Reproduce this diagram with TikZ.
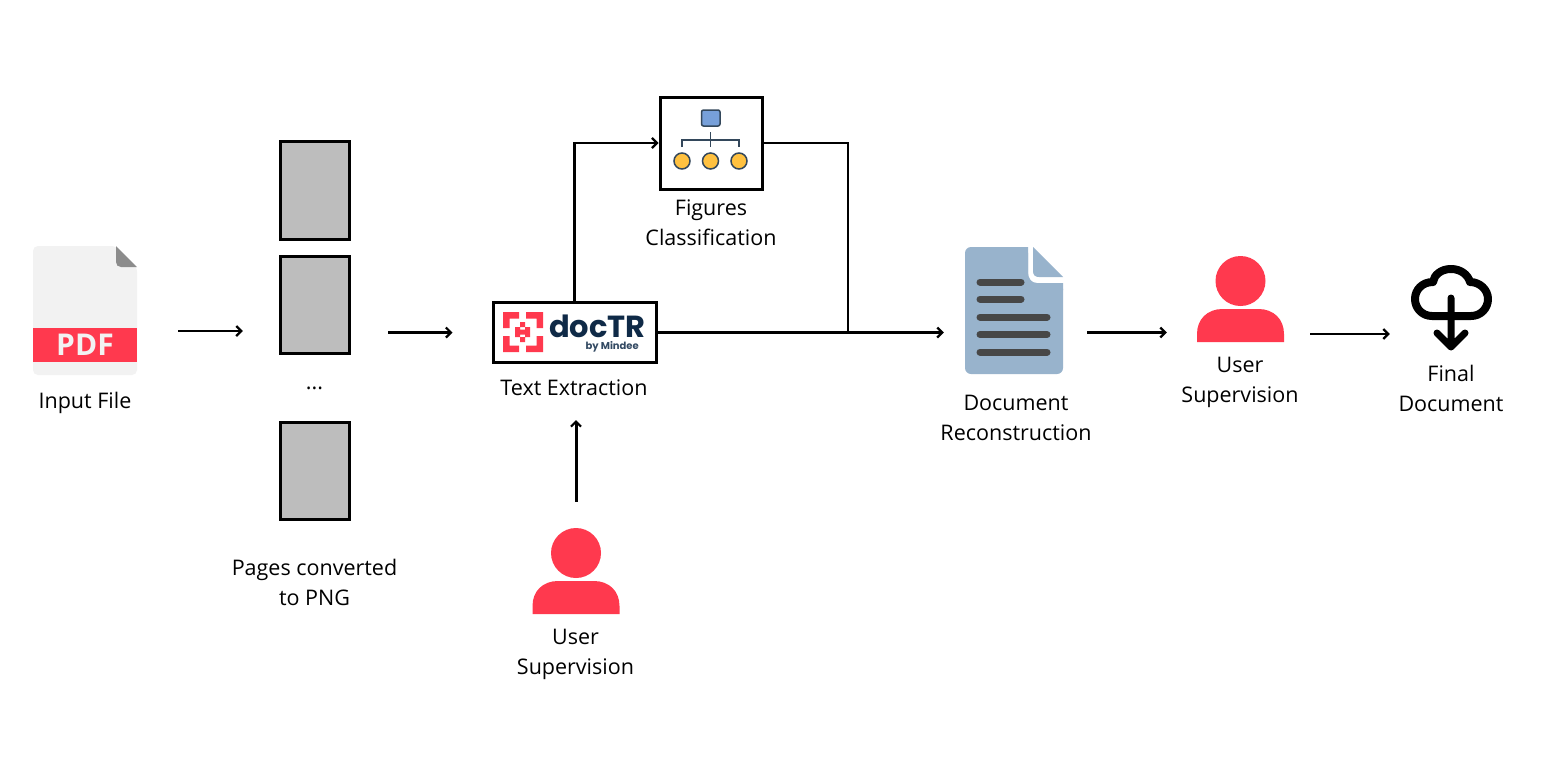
\documentclass[tikz,border=0pt]{standalone}
\usepackage{fontspec}
\setmainfont{Open Sans}
\newfontfamily\logofont{Poppins}
\usetikzlibrary{arrows.meta,calc}
\definecolor{ured}{HTML}{FF394E}
\definecolor{docblue}{HTML}{98B3CC}
\definecolor{navy}{HTML}{0F2A47}
\definecolor{iconline}{HTML}{33475B}
\tikzset{
  x=1pt,y=-1pt,
  lbl/.style={font=\fontsize{21.5}{30}\selectfont,align=center,inner sep=0pt,text=black},
  slot/.style={rectangle,inner sep=0pt,minimum width=#1},
  arr/.style={draw=black,line width=2.5pt,-{Straight Barb[length=5pt,width=10pt,line width=2.2pt]}},
  wire/.style={draw=black,line width=2.5pt},
  boxed/.style={draw=black,line width=3pt,fill=white,inner sep=0pt},
  pagebox/.style={draw=black,line width=3pt,fill=black!26,inner sep=0pt,minimum width=69pt},
  docline/.style={draw=black!72,line width=7pt,line cap=round},
  person/.pic={
    \fill[ured] (0,-18) circle[radius=25];
    \fill[ured] (-43.5,43) -- (-43.5,35) .. controls (-43.5,20) and (-33,10) .. (-18,10)
      -- (18,10) .. controls (33,10) and (43.5,20) .. (43.5,35) -- (43.5,43) -- cycle;
  }
}
\begin{document}
\begin{tikzpicture}
\useasboundingbox (0,0) rectangle (1543,766);
\fill[white] (0,0) rectangle (1543,766);

% PDF icon
\node[slot=104pt,minimum height=129pt] (pdf) at (85,310.5) {};
\fill[black!5,rounded corners=5pt] (33,246) -- (116,246) -- (137,267) -- (137,375) -- (33,375) -- cycle;
\fill[black!45] (116,246) -- (137,267) -- (121,267) .. controls (118,267) and (116,265) .. (116,262) -- cycle;
\fill[ured] (33,328) rectangle (137,362);
\node[font=\fontsize{30}{30}\selectfont\bfseries,text=black!5,inner sep=0pt] (pdftext) at (85,345) {PDF};
\node[lbl] (inputlabel) at (85,403) {Input File};

% pages
\node[slot=71pt,minimum height=379pt] (pagecol) at (314.5,331) {};
\node[pagebox,minimum height=98pt] (page1) at (314.5,190.5) {};
\node[pagebox,minimum height=97pt] (page2) at (314.5,305) {};
\node[pagebox,minimum height=97pt] (page3) at (314.5,471) {};
\node[lbl] (dots) at (314.5,388) {...};
\node[lbl] (pageslabel) at (314.5,582) {Pages converted\\to PNG};

% docTR
\node[boxed,minimum width=163pt,minimum height=60pt] (doctr) at (574.5,332.5) {};
\fill[ured] (503,312) -- (519,312) -- (519,318.5) -- (509.5,318.5) -- (509.5,328) -- (503,328) -- cycle;
\fill[ured] (543,312) -- (526,312) -- (526,318.5) -- (536.5,318.5) -- (536.5,328) -- (543,328) -- cycle;
\fill[ured] (503,352) -- (519,352) -- (519,345.5) -- (509.5,345.5) -- (509.5,336) -- (503,336) -- cycle;
\fill[ured] (543,352) -- (526,352) -- (526,345.5) -- (536.5,345.5) -- (536.5,336) -- (543,336) -- cycle;
\fill[ured] (520,322) rectangle (525,327) (520,337) rectangle (525,342)
  (515,327) rectangle (520,332) (525,327) rectangle (530,332)
  (515,332) rectangle (520,337) (525,332) rectangle (530,337)
  (520,329.5) rectangle (525,334.5);
\node[font=\fontsize{30.5}{30}\selectfont\logofont\bfseries,text=navy,inner sep=0pt,anchor=base west] (logotext) at (549,337) {docTR};
\node[font=\fontsize{10}{10}\selectfont\logofont\bfseries,text=navy!85,inner sep=0pt,anchor=base east] (logosub) at (639,349) {by Mindee};
\node[lbl] (doctrlabel) at (574,388) {Text Extraction};

% figures
\node[boxed,minimum width=102pt,minimum height=92pt] (fig) at (711,143) {};
\draw[iconline,line width=1.8pt] (710.5,132) -- (710.5,147) (682,147) -- (682,140) -- (739,140) -- (739,147);
\draw[iconline,line width=1.5pt,fill=cyan!50!blue!55,rounded corners=2pt] (701.5,110) rectangle (720,126);
\foreach \cx/\nm in {682/c1,710.5/c2,739/c3}
  \draw[iconline,line width=1.5pt,fill=orange!65!yellow!75] (\cx,161) circle[radius=8];
\node[lbl] (figlabel) at (711,223) {Figures\\Classification};

% document
\node[slot=98pt,minimum height=127pt] (rdoc) at (1014,310.5) {};
\fill[docblue,rounded corners=6pt] (965,247) -- (1028,247) -- (1028,283) -- (1063,283) -- (1063,374) -- (965,374) -- cycle;
\fill[docblue] (1028,247) -- (1028,272) .. controls (1028,278) and (1031,283) .. (1037,283) -- (1063,283) -- (1063,290) -- (1020,290) -- (1020,247) -- cycle;
\fill[docblue] (1033,247) -- (1063,277) -- (1039,277) .. controls (1035,277) and (1033,275) .. (1033,271) -- cycle;
\draw[docline] (980,282) -- (1021,282);
\draw[docline] (980,299) -- (1021,299);
\draw[docline] (980,317) -- (1047,317);
\draw[docline] (980,334.5) -- (1047,334.5);
\draw[docline] (980,352) -- (1047,352);
\node[lbl] (rdoclabel) at (1016,418) {Document\\Reconstruction};

% users
\node[slot=87pt,minimum height=86pt] (user2) at (1240.5,299) {};
\pic at (1240.5,299) {person};
\node[lbl] (user2label) at (1240,382) {User\\Supervision};
\node[slot=87pt,minimum height=86pt] (user1) at (576,571) {};
\pic at (576,571) {person};
\node[lbl] (user1label) at (575.5,654) {User\\Supervision};

% final
\node[slot=81pt,minimum height=86pt] (cloud) at (1451.5,307) {};
\draw[black,line width=8pt,line join=round,line cap=round]
  (1471,316) -- (1432,316)
  .. controls (1422,316) and (1415,308) .. (1415,299)
  .. controls (1415,290) and (1422,282) .. (1433,282)
  .. controls (1434,275) and (1441,269) .. (1451,269)
  .. controls (1461,269) and (1468,275) .. (1470,282)
  .. controls (1480,282) and (1488,290) .. (1488,299)
  .. controls (1488,308) and (1481,316) .. (1471,316);
\draw[black,line width=7pt,line cap=round,line join=round]
  (1451,298) -- (1451,346) (1437,333) -- (1451,347) -- (1465,333);
\node[lbl] (finallabel) at (1451,388.5) {Final\\Document};

% connectors
\draw[arr,shorten <=41pt,shorten >=36pt] ([yshift=-20.5pt]pdf.east) -- (pagecol.west);
\draw[arr,shorten <=38pt,shorten >=39pt] (pagecol.east |- doctr.west) -- (doctr.west);
\draw[arr] (doctr.north) |- (fig.west);
\coordinate (join) at (848,332.5);
\draw[wire] (fig.east) -| (join);
\draw[arr,shorten >=21pt] (doctr.east) -- (rdoc.west |- doctr.east);
\draw[arr,line width=3pt,shorten <=26pt,shorten >=56pt] (user1.north) -- (user1.north |- doctr.south);
\draw[arr,shorten <=24pt,shorten >=30pt] (rdoc.east |- doctr.east) -- (user2.west |- doctr.east);
\draw[arr,shorten <=26pt,shorten >=21pt] ([yshift=-35pt]user2.east) -- ([yshift=-27pt]cloud.west);
\end{tikzpicture}
\end{document}
